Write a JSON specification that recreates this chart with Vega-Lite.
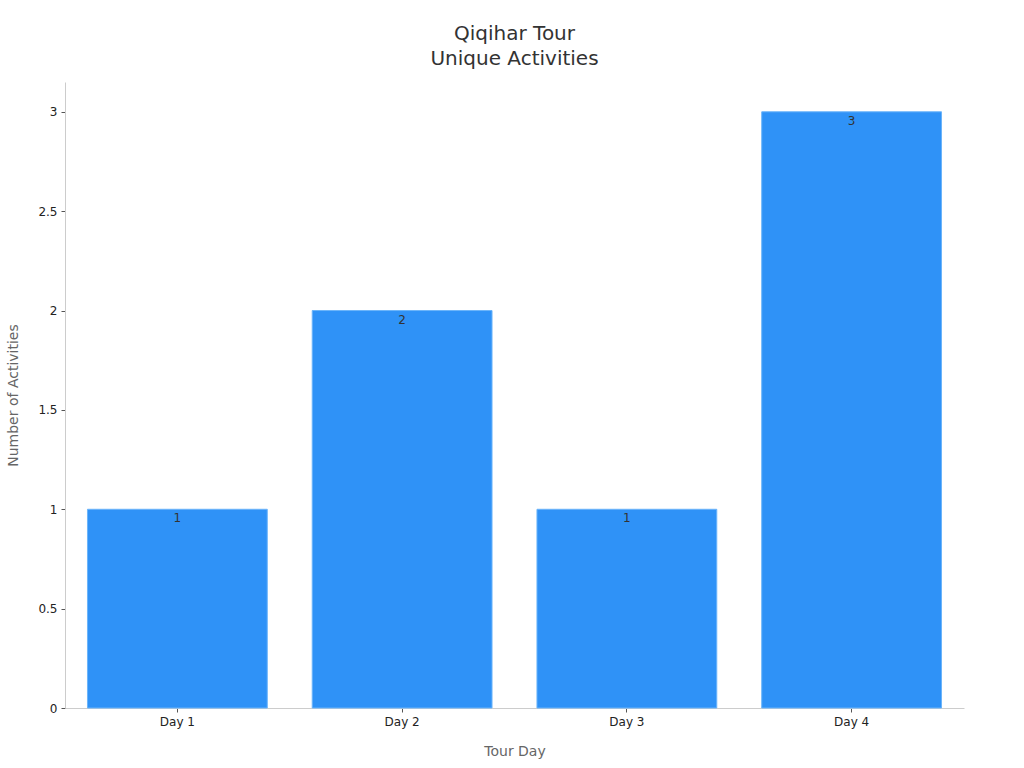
{
  "$schema": "https://vega.github.io/schema/vega-lite/v6.json",
  "autosize": "none",
  "padding": {"left": 65, "top": 82, "right": 60, "bottom": 60},
  "width": 899,
  "height": 626,
  "title": {
    "text": ["Qiqihar Tour", "Unique Activities"],
    "fontSize": 20,
    "fontWeight": "normal",
    "color": "#333333",
    "lineHeight": 25,
    "offset": 13,
    "anchor": "middle"
  },
  "data": {
    "values": [
      {"day": "Day 1", "activities": 1},
      {"day": "Day 2", "activities": 2},
      {"day": "Day 3", "activities": 1},
      {"day": "Day 4", "activities": 3}
    ]
  },
  "encoding": {
    "x": {
      "field": "day",
      "type": "nominal",
      "title": "Tour Day",
      "scale": {"paddingInner": 0.2, "paddingOuter": 0.1},
      "axis": {"labelAngle": 0, "titlePadding": 17}
    },
    "y": {
      "field": "activities",
      "type": "quantitative",
      "title": "Number of Activities",
      "scale": {"domain": [0, 3.15], "nice": false},
      "axis": {"values": [0, 0.5, 1, 1.5, 2, 2.5, 3], "format": "~g", "titlePadding": 17}
    }
  },
  "layer": [
    {
      "mark": {"type": "bar", "color": "#2F92F7", "stroke": "#6BB4FA", "strokeWidth": 1}
    },
    {
      "mark": {"type": "text", "baseline": "top", "dy": 4, "fontSize": 12, "color": "#333333"},
      "encoding": {"text": {"field": "activities", "type": "quantitative"}}
    }
  ],
  "config": {
    "font": "DejaVu Sans",
    "view": {"stroke": null},
    "axis": {
      "grid": false,
      "domainColor": "#cccccc",
      "tickColor": "#555555",
      "tickSize": 4,
      "labelFontSize": 12,
      "labelColor": "#222222",
      "labelPadding": 4,
      "titleFontSize": 14,
      "titleFontWeight": "normal",
      "titleColor": "#666666"
    }
  }
}
